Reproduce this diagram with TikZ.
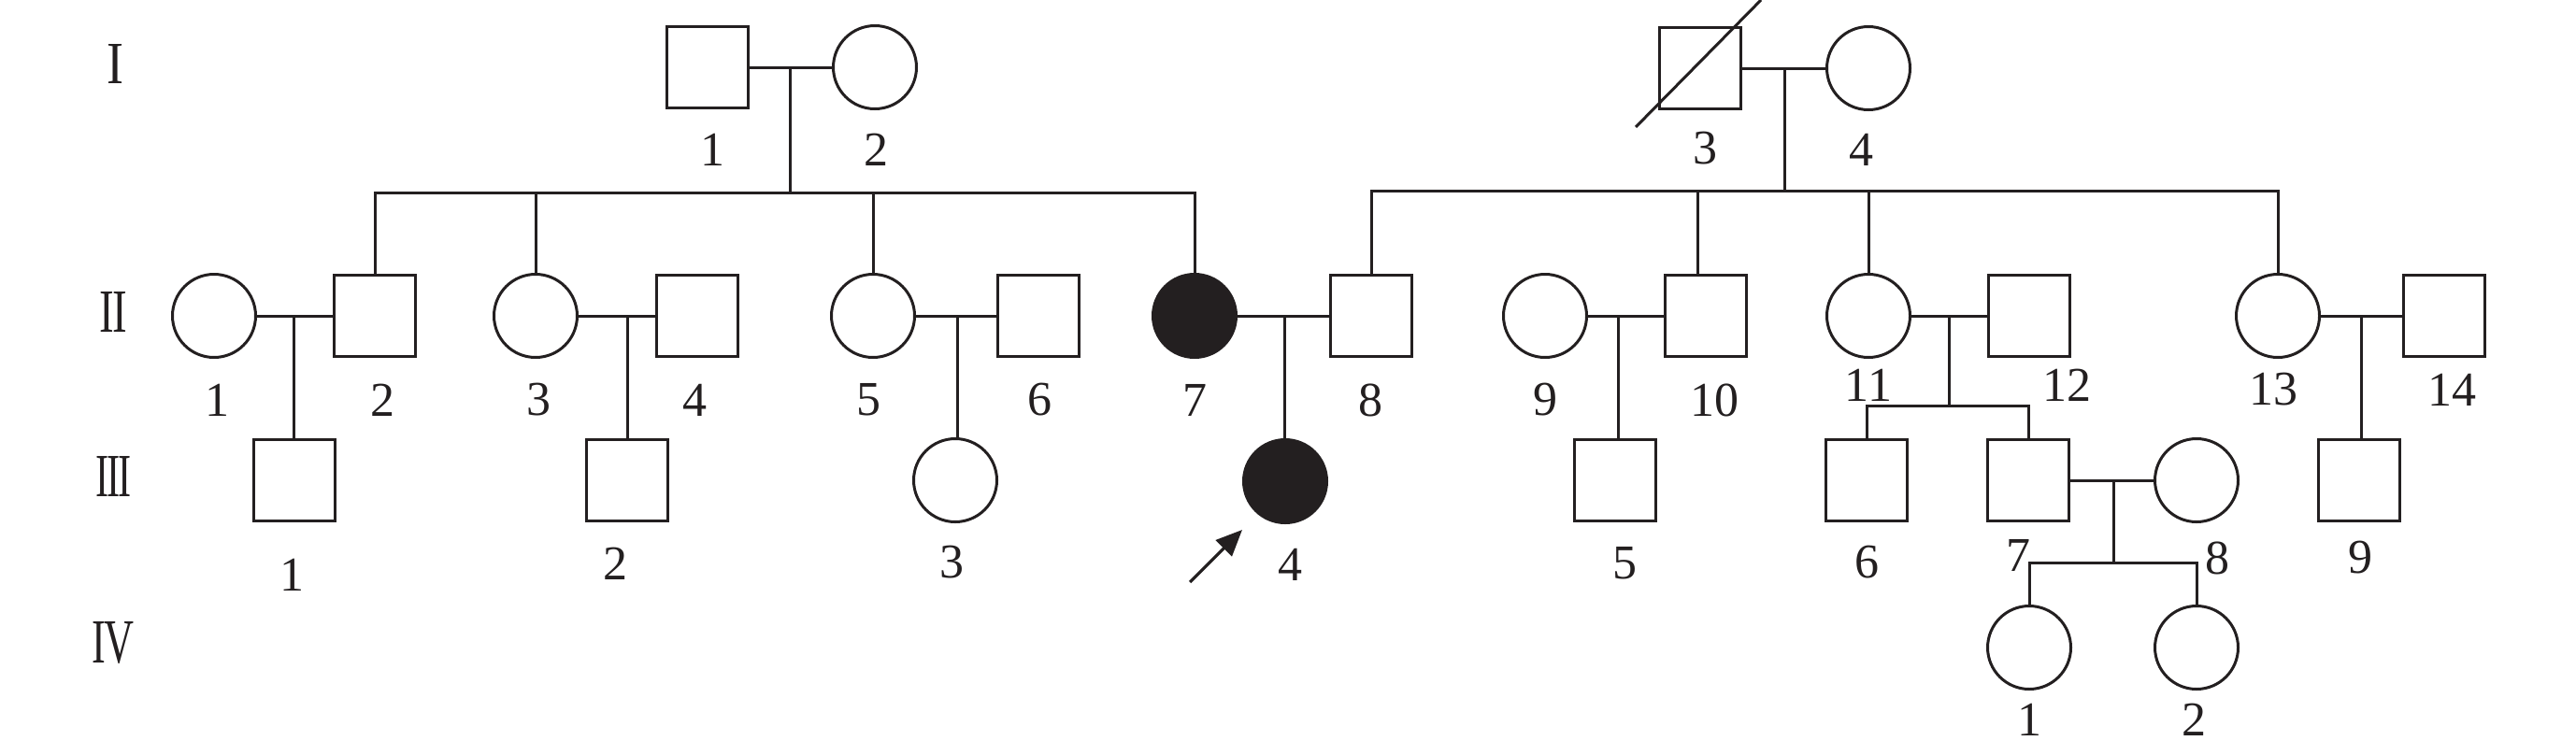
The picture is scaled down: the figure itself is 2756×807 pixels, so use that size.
\documentclass[tikz,border=0pt]{standalone}
\usepackage{fontspec}
\setmainfont{Liberation Serif}
\usetikzlibrary{arrows.meta}
\definecolor{ink}{HTML}{231F20}
\tikzset{
  male/.style={draw=ink, rectangle, minimum size=87pt, inner sep=0pt, line width=3pt},
  female/.style={draw=ink, circle, minimum size=89pt, inner sep=0pt, line width=3pt},
  affected/.style={fill=ink},
  lbl/.style={inner sep=0pt, text=ink, font=\fontsize{52}{62}\selectfont},
  gen/.style={inner sep=0pt, text=ink},
  link/.style={draw=ink, line width=3pt, line cap=rect},
  proband/.style={draw=ink, line width=3.2pt, -{Triangle[length=28pt,width=24pt]}}
}
\begin{document}
\begin{tikzpicture}[x=1pt,y=-1pt]
\path[fill=white] (0,0) rectangle (2756,807);
\useasboundingbox (0,0) rectangle (2756,807);

% generation numerals
\node[gen] (gI)   at (123,68)    {\resizebox{18pt}{42pt}{I}};
\node[gen] (gII)  at (121.5,333.5) {\resizebox{29pt}{43pt}{I\kern-0.05em I}};
\node[gen] (gIII) at (122,509.5) {\resizebox{38pt}{43pt}{I\kern-0.05em I\kern-0.05em I}};
\node[gen] (gIV)  at (121,688)   {\resizebox{44pt}{44pt}{I\kern-0.06em V}};

% generation I
\node[male]   (I1) at (757,72)  {};
\node[female] (I2) at (936,72)  {};
\node[male]   (I3) at (1819,73) {};
\node[female] (I4) at (1999,73) {};

% generation II
\node[female] (II1)  at (229,338)  {};
\node[male]   (II2)  at (401,338)  {};
\node[female] (II3)  at (573,338)  {};
\node[male]   (II4)  at (746,338)  {};
\node[female] (II5)  at (934,338)  {};
\node[male]   (II6)  at (1111,338) {};
\node[female,affected] (II7) at (1278,338) {};
\node[male]   (II8)  at (1467,338) {};
\node[female] (II9)  at (1653,338) {};
\node[male]   (II10) at (1825,338) {};
\node[female] (II11) at (1999,338) {};
\node[male]   (II12) at (2171,338) {};
\node[female] (II13) at (2437,338) {};
\node[male]   (II14) at (2615,338) {};

% generation III
\node[male]   (III1) at (315,514)  {};
\node[male]   (III2) at (671,514)  {};
\node[female] (III3) at (1022,514) {};
\node[female,affected] (III4) at (1375,515) {};
\node[male]   (III5) at (1728,514) {};
\node[male]   (III6) at (1997,514) {};
\node[male]   (III7) at (2170,514) {};
\node[female] (III8) at (2350,514) {};
\node[male]   (III9) at (2524,514) {};

% generation IV
\node[female] (IV1) at (2171,693) {};
\node[female] (IV2) at (2350,693) {};

% helper coordinates
\coordinate (mA) at (845,72);
\coordinate (mB) at (1909,73);
\coordinate (sibL) at (845,206);
\coordinate (sibR) at (1909,204);
\coordinate (d10) at (1816,204);
\coordinate (m1) at (314,338);
\coordinate (m2) at (671,338);
\coordinate (m3) at (1024,338);
\coordinate (m4) at (1374,338);
\coordinate (m5) at (1731,338);
\coordinate (m6) at (2085,338);
\coordinate (m7) at (2526,338);
\coordinate (sib6) at (2085,434);
\coordinate (m8) at (2261,514);
\coordinate (sib8) at (2261,602);

% generation I links
\draw[link] (I1.east) -- (I2.west);
\draw[link] (I3.east) -- (I4.west);
\draw[link] (mA) -- (sibL);
\draw[link] (mB) -- (sibR);
\draw[link] (II2.north |- sibL) -- (II7.north |- sibL);
\foreach \n in {II2,II3,II5,II7} \draw[link] (\n.north |- sibL) -- (\n.north);
\draw[link] (II8.north |- sibR) -- (II13.north |- sibR);
\foreach \n in {II8,II11,II13} \draw[link] (\n.north |- sibR) -- (\n.north);
\draw[link] (d10) -- (d10 |- II10.north);

% generation II links
\draw[link] (II1.east) -- (II2.west);
\draw[link] (II3.east) -- (II4.west);
\draw[link] (II5.east) -- (II6.west);
\draw[link] (II7.east) -- (II8.west);
\draw[link] (II9.east) -- (II10.west);
\draw[link] (II11.east) -- (II12.west);
\draw[link] (II13.east) -- (II14.west);
\draw[link] (m1) -- (m1 |- III1.north);
\draw[link] (m2) -- (m2 |- III2.north);
\draw[link] (m3) -- (m3 |- III3.north);
\draw[link] (m4) -- (m4 |- III4.north);
\draw[link] (m5) -- (m5 |- III5.north);
\draw[link] (m7) -- (m7 |- III9.north);
\draw[link] (m6) -- (sib6);
\draw[link] (III6.north |- sib6) -- (III7.north |- sib6);
\draw[link] (III6.north |- sib6) -- (III6.north);
\draw[link] (III7.north |- sib6) -- (III7.north);

% generation III links
\draw[link] (III7.east) -- (III8.west);
\draw[link] (m8) -- (sib8);
\draw[link] (IV1.north |- sib8) -- (IV2.north |- sib8);
\draw[link] (IV1.north |- sib8) -- (IV1.north);
\draw[link] (IV2.north |- sib8) -- (IV2.north);

% deceased slash
\coordinate (sl1) at (1750,136);
\coordinate (sl2) at (1884,0);
\draw[link, line cap=butt] (sl1) -- (sl2);

% proband arrow
\coordinate (arT) at (1273,623);
\coordinate (arH) at (1329,567);
\draw[proband] (arT) -- (arH);

% labels
\node[lbl] (lI1) at (762,160) {1};
\node[lbl] (lI2) at (937,160) {2};
\node[lbl] (lI3) at (1824,159) {3};
\node[lbl] (lI4) at (1991,160) {4};

\node[lbl] (lII1)  at (232,428)  {1};
\node[lbl] (lII2)  at (409,428)  {2};
\node[lbl] (lII3)  at (576,428)  {3};
\node[lbl] (lII4)  at (743,428)  {4};
\node[lbl] (lII5)  at (929,428)  {5};
\node[lbl] (lII6)  at (1112,428) {6};
\node[lbl] (lII7)  at (1278,428) {7};
\node[lbl] (lII8)  at (1466,428) {8};
\node[lbl] (lII9)  at (1653,428) {9};
\node[lbl] (lII10) at (1834,428) {10};
\node[lbl] (lII11) at (1999,412) {11};
\node[lbl] (lII12) at (2211,412) {12};
\node[lbl] (lII13) at (2432,417) {13};
\node[lbl] (lII14) at (2623,417) {14};

\node[lbl] (lIII1) at (312,615)  {1};
\node[lbl] (lIII2) at (658,603)  {2};
\node[lbl] (lIII3) at (1018,602) {3};
\node[lbl] (lIII4) at (1380,604) {4};
\node[lbl] (lIII5) at (1738,603) {5};
\node[lbl] (lIII6) at (1997,602) {6};
\node[lbl] (lIII7) at (2159,594) {7};
\node[lbl] (lIII8) at (2372,597) {8};
\node[lbl] (lIII9) at (2525,597) {9};

\node[lbl] (lIV1) at (2171,770) {1};
\node[lbl] (lIV2) at (2347,770) {2};
\end{tikzpicture}
\end{document}
